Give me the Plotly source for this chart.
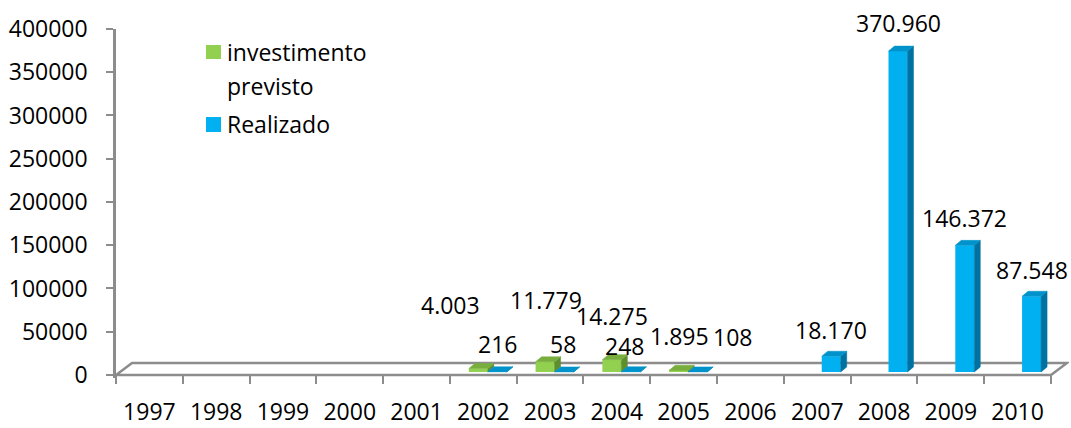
import plotly.graph_objects as go

# ---------------- data ----------------
years = [1997, 1998, 1999, 2000, 2001, 2002, 2003, 2004, 2005, 2006, 2007, 2008, 2009, 2010]
previsto = [None, None, None, None, None, 4003, 11779, 14275, 1895, None, None, None, None, None]
realizado = [None, None, None, None, None, 216, 58, 248, 108, None, 18170, 370960, 146372, 87548]
series_names = ["investimento previsto", "Realizado"]
y_ticks = [0, 50000, 100000, 150000, 200000, 250000, 300000, 350000, 400000]

# label nudges in pixels (style, as placed in the original chart)
prev_label_dx = [0, 0, 0, 0, 0, -28, 1, 0, 1, 0, 0, 0, 0, 0]
prev_label_dy = [0, 0, 0, 0, 0, 64, 62, 44, 34, 0, 0, 0, 0, 0]
real_label_dx = [0, 0, 0, 0, 0, 0, -1, -6, 35, 0, 0, 0, 0, 0]
real_label_dy = [0, 0, 0, 0, 0, 28, 28, 26, 35, 0, 26, 28, 27, 26]

# ---------------- geometry / style ----------------
W, H = 1071, 428
ML, MR, MT, MB = 116, 2, 29, 50
PW, PH = W - ML - MR, H - MT - MB
X0, X1 = -0.5, 13.77
Y0, Y1 = -3500, 400000
ux = PW / (X1 - X0)
uy = PH / (Y1 - Y0)


def dxu(px):
    return px / ux


def dyu(px):
    return px / uy


def paper_x(px):
    return (px - ML) / PW


def paper_y(py):
    return (H - MB - py) / PH


FONT = "Open Sans"
FS = 23
GREY = "#8C8C8C"
BASE = dyu(3)
BW = dxu(19)
OFF = [dxu(-5), dxu(14)]
DDX, DDY = dxu(6), dyu(5)
FLOOR_DX, FLOOR_DY = dxu(16), dyu(12)
front_cols = ["#92D050", "#00B0F0"]
top_cols = ["#78AE3E", "#0092CA"]
side_cols = ["#5F8E2F", "#0072A2"]

idx = list(range(len(years)))
series = [previsto, realizado]

fig = go.Figure()

# 3D faces (top + right side) for each bar
for s, vals in enumerate(series):
    tx, ty, sx, sy = [], [], [], []
    for i, v in zip(idx, vals):
        if v is None:
            continue
        xc = i + OFF[s]
        xl, xr = xc - BW / 2, xc + BW / 2
        top = BASE + v
        tx += [xl, xr, xr + DDX, xl + DDX, xl, None]
        ty += [top, top, top + DDY, top + DDY, top, None]
        sx += [xr, xr, xr + DDX, xr + DDX, xr, None]
        sy += [BASE, top, top + DDY, BASE + DDY, BASE, None]
    fig.add_trace(go.Scatter(x=sx, y=sy, mode="lines", fill="toself",
                             fillcolor=side_cols[s], line=dict(width=0.5, color=side_cols[s]),
                             hoverinfo="skip", showlegend=False))
    fig.add_trace(go.Scatter(x=tx, y=ty, mode="lines", fill="toself",
                             fillcolor=top_cols[s], line=dict(width=0.5, color=top_cols[s]),
                             hoverinfo="skip", showlegend=False))

# front faces
for s, vals in enumerate(series):
    xs = [i + OFF[s] for i, v in zip(idx, vals) if v is not None]
    ys = [v for v in vals if v is not None]
    fig.add_trace(go.Bar(x=xs, y=ys, base=BASE, width=BW, name=series_names[s],
                         marker=dict(color=front_cols[s], line=dict(width=0)),
                         showlegend=False))


def fmt(v):
    return f"{v:,}".replace(",", ".")


annotations = []
for s, (vals, ldx, ldy) in enumerate([(previsto, prev_label_dx, prev_label_dy),
                                       (realizado, real_label_dx, real_label_dy)]):
    for i, v in zip(idx, vals):
        if v is None:
            continue
        annotations.append(dict(x=i + OFF[s], y=BASE + v, xref="x", yref="y",
                                text=fmt(v), showarrow=False, xanchor="center",
                                yanchor="middle", xshift=ldx[i], yshift=ldy[i],
                                font=dict(family=FONT, size=FS, color="#000000")))

# custom legend
legend_items = [("investimento", 52), ("previsto", 86), ("Realizado", 124)]
for txt, py in legend_items:
    annotations.append(dict(x=paper_x(225), y=paper_y(py), xref="paper", yref="paper",
                            text=txt, showarrow=False, xanchor="left", yanchor="middle",
                            font=dict(family=FONT, size=FS, color="#000000")))

shapes = [
    # floor of the 3D plot
    dict(type="path", xref="x", yref="y", layer="below",
         path=(f"M{X0},0 L{X0 + FLOOR_DX},{FLOOR_DY} L{13.5 + FLOOR_DX},{FLOOR_DY} "
               f"L13.5,0 Z"),
         line=dict(color=GREY, width=2.5), fillcolor="rgba(0,0,0,0)"),
    dict(type="rect", xref="paper", yref="paper", x0=paper_x(206), x1=paper_x(221),
         y0=paper_y(59), y1=paper_y(45), fillcolor=front_cols[0], line=dict(width=0)),
    dict(type="rect", xref="paper", yref="paper", x0=paper_x(206), x1=paper_x(221),
         y0=paper_y(132), y1=paper_y(117), fillcolor=front_cols[1], line=dict(width=0)),
]

fig.update_layout(
    width=W, height=H,
    margin=dict(l=ML, r=MR, t=MT, b=MB, autoexpand=False),
    paper_bgcolor="white", plot_bgcolor="white",
    barmode="overlay",
    showlegend=False,
    annotations=annotations,
    shapes=shapes,
    font=dict(family=FONT, size=FS, color="#000000"),
    xaxis=dict(range=[X0, X1], tickmode="array", tickvals=idx, automargin=False,
               ticktext=[str(y) for y in years], ticks="", showgrid=False,
               zeroline=False, showline=False, anchor="free",
               position=(0 - Y0) / (Y1 - Y0), ticklabelstandoff=21,
               tickfont=dict(family=FONT, size=FS, color="#000000"),
               minor=dict(tickmode="array", tickvals=[i - 0.5 for i in range(len(years) + 1)],
                          ticks="outside", ticklen=8, tickwidth=2, tickcolor=GREY,
                          showgrid=False)),
    yaxis=dict(range=[Y0, Y1], tickmode="array", tickvals=y_ticks, automargin=False,
               ticktext=[str(t) for t in y_ticks], ticks="outside", ticklen=7,
               tickwidth=2, tickcolor=GREY, showline=True, linecolor=GREY,
               linewidth=2.5, showgrid=False, zeroline=False, ticklabelstandoff=14,
               tickfont=dict(family=FONT, size=FS, color="#000000")),
)

fig.write_html("out.html")
